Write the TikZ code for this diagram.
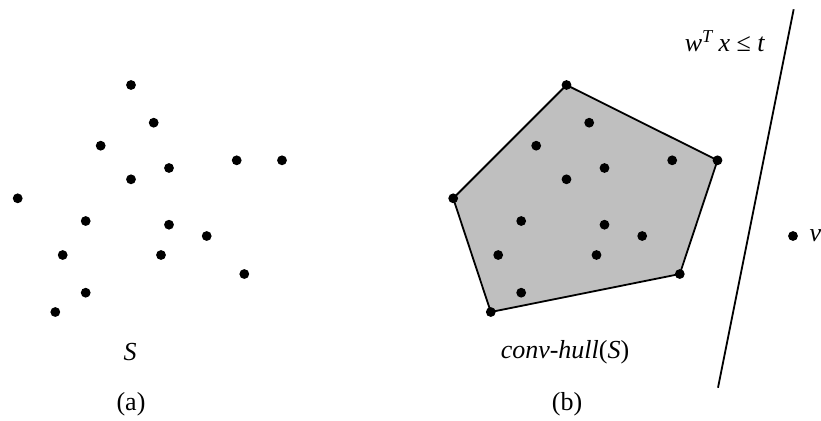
\documentclass[tikz,border=0pt]{standalone}
\usepackage{fontspec}
\setmainfont{Liberation Serif}
\usetikzlibrary{backgrounds}

\begin{document}
\begin{tikzpicture}[
  x=0.5pt, y=-0.5pt,
  every node/.style={font=\fontsize{13}{15}\selectfont},
  dot/.style={circle, fill=black, inner sep=0pt, minimum size=4.9pt},
  hull/.style={draw=black, fill=black!25, line width=0.9pt, line join=round},
  plane/.style={draw=black, line width=0.9pt},
]
\useasboundingbox (0,0) rectangle (821,420);

% the point set S, once on the left and once shifted to the right
\foreach \i/\px/\py in {1/131/85, 2/153.7/122.7, 3/100.7/145.7, 4/236.7/160.3,
    5/282/160.3, 6/169/168, 7/131/179.3, 8/17.7/198.3, 9/85.7/221,
    10/169/224.7, 11/206.7/236, 12/62.7/255, 13/161/255, 14/244.3/274,
    15/85.7/292.7, 16/55.3/312} {
  \node[dot] (a\i) at (\px,\py) {};
  \node[dot] (b\i) at (\px+435.5,\py) {};
}

\begin{scope}[on background layer]
  \path[hull] (b1.center) -- (b5.center) -- (b14.center) -- (b16.center)
    -- (b8.center) -- cycle;
\end{scope}

% separating hyperplane and the outside point
\coordinate (ptop) at (793.7,9.3);
\coordinate (pbot) at (718,387.7);
\draw[plane] (ptop) -- (pbot);
\node (eq) at (725,41) {\textit{w}\textsuperscript{\textit{T}}\,\textit{x} ≤ \textit{t}};
\node[dot] (v) at (793,236) {};
\node[right=5.5pt, inner sep=0pt] (vlab) at (v.east) {\textit{v}};

\node (Slab) at (130,352) {\textit{S}};
\node (hlab) at (565,352) {\textit{conv-hull}(\textit{S})};
\node (cap1) at (131,404) {(a)};
\node (cap2) at (567,404) {(b)};

\end{tikzpicture}
\end{document}
